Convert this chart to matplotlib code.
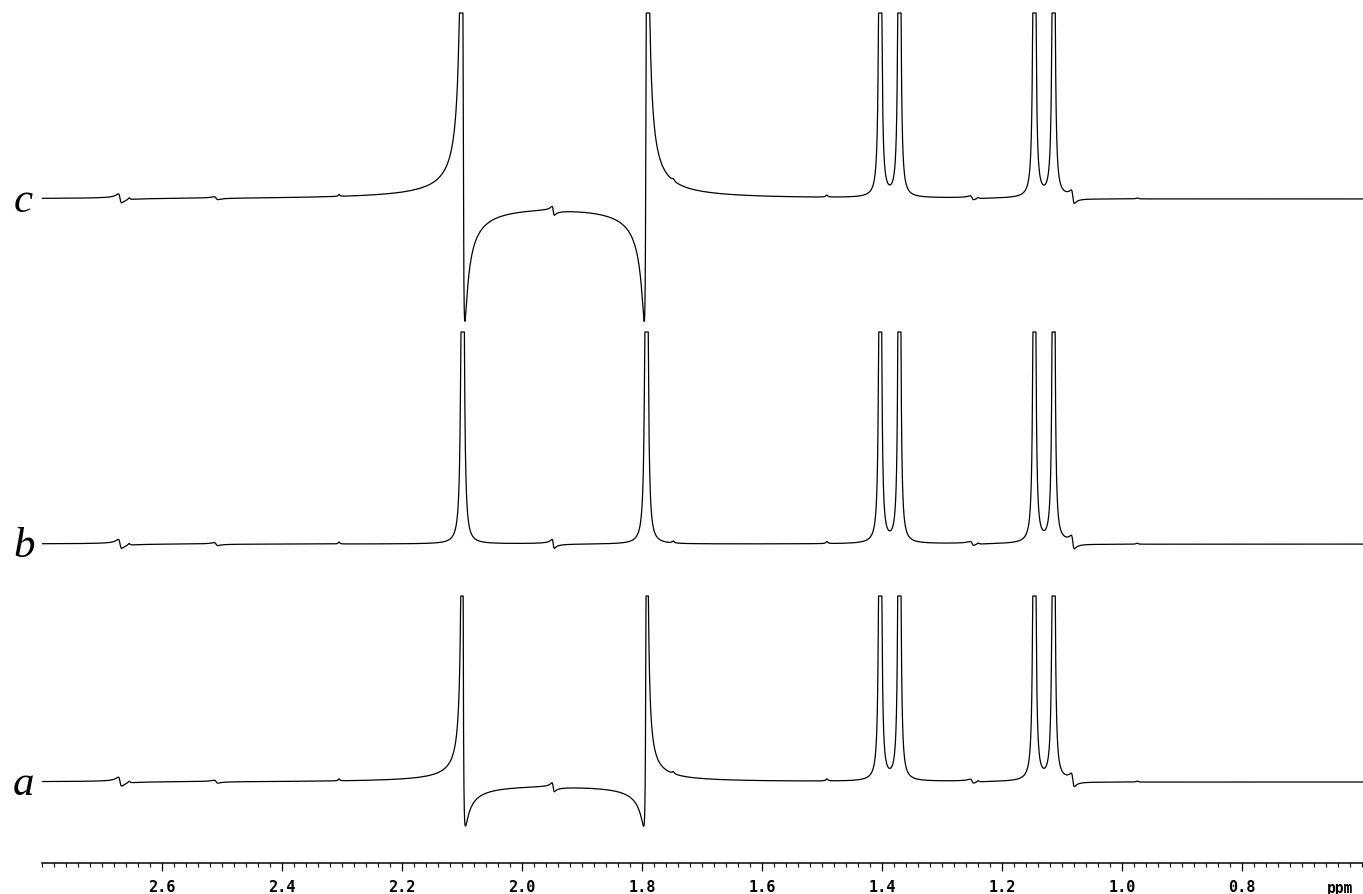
import numpy as np
import matplotlib.pyplot as plt
from matplotlib.ticker import MultipleLocator, FixedLocator, FormatStrFormatter

# ppm window of the plot
ppm_left = 2.8
ppm_right = 0.5983
npts = 40000

# main lines (ppm): two large singlets and two doublets
big_ppm = [2.099, 1.7925]
doublet_ppm = [1.403, 1.371, 1.146, 1.114]

# per trace: baseline height, clip level, big peak height/width/phase (deg)
trace_names = ['a', 'b', 'c']
trace_base = [81, 319, 664]
trace_clip = [267, 531, 850]
big_height = [600, 1500, 600]
big_width = [0.00132, 0.0012, 0.0019]
big_phase = [[31, -31], [0, 0], [53, -53]]

doublet_height = 1660
doublet_width = 0.001

# small artefacts, same in every trace: ppm, amplitude, width, phase (deg)
small_ppm = [2.670, 2.655, 2.510, 2.305, 1.948, 1.748, 1.492, 1.250, 1.240, 1.082, 0.975]
small_amp = [9, 2, 3, 2, 9, 2, 2, 4, 1.5, 13, 1]
small_w = [0.0028, 0.002, 0.003, 0.0015, 0.002, 0.002, 0.002, 0.003, 0.002, 0.0025, 0.002]
small_phase = [90, 0, 90, 0, 90, 0, 0, 90, 0, 90, 0]


def line(ppm, p0, h, w, phase):
    u = (ppm - p0) / w
    ph = np.deg2rad(phase)
    return h * (np.cos(ph) + u * np.sin(ph)) / (1 + u ** 2)


ppm = np.linspace(ppm_left, ppm_right, npts)

fig = plt.figure(figsize=(13.63, 8.95), dpi=100)
ax = fig.add_axes([42 / 1363, 31 / 895, 1 - 42 / 1363, 864 / 895])

for i, name in enumerate(trace_names):
    sig = np.zeros_like(ppm)
    for p0, ph in zip(big_ppm, big_phase[i]):
        sig += line(ppm, p0, big_height[i], big_width[i], ph)
    for p0 in doublet_ppm:
        sig += line(ppm, p0, doublet_height, doublet_width, 0)
    for p0, a, w, ph in zip(small_ppm, small_amp, small_w, small_phase):
        sig += line(ppm, p0, a, w, ph)
    y = np.minimum(trace_base[i] + sig, trace_clip[i])
    ax.plot(ppm, y, color='black', lw=0.9)
    ax.text(2.848, trace_base[i] - 12, name, fontsize=31, style='italic',
            family='Liberation Serif', ha='left', va='baseline', clip_on=False)

ax.set_xlim(ppm_left, ppm_right)
ax.set_ylim(0, 864)
for s in ['left', 'right', 'top']:
    ax.spines[s].set_visible(False)
ax.spines['bottom'].set_linewidth(1.1)
ax.set_yticks([])
ax.xaxis.set_major_locator(FixedLocator([2.6, 2.4, 2.2, 2.0, 1.8, 1.6, 1.4, 1.2, 1.0, 0.8]))
ax.xaxis.set_major_formatter(FormatStrFormatter('%.1f'))
ax.xaxis.set_minor_locator(MultipleLocator(0.02))
ax.tick_params(axis='x', which='major', direction='out', length=6, width=0.9, pad=5.5)
ax.tick_params(axis='x', which='minor', direction='out', length=3, width=0.8)
for lab in ax.get_xticklabels():
    lab.set_family('DejaVu Sans Mono')
    lab.set_fontweight('bold')
    lab.set_fontsize(11)

ax.annotate('ppm', xy=(0.637, 0), xycoords=('data', 'axes fraction'),
            xytext=(0, -12.2), textcoords='offset points', ha='center', va='top',
            family='DejaVu Sans Mono', fontweight='bold', fontsize=10.5,
            annotation_clip=False)

plt.savefig('out.png', dpi=100)
plt.close()
